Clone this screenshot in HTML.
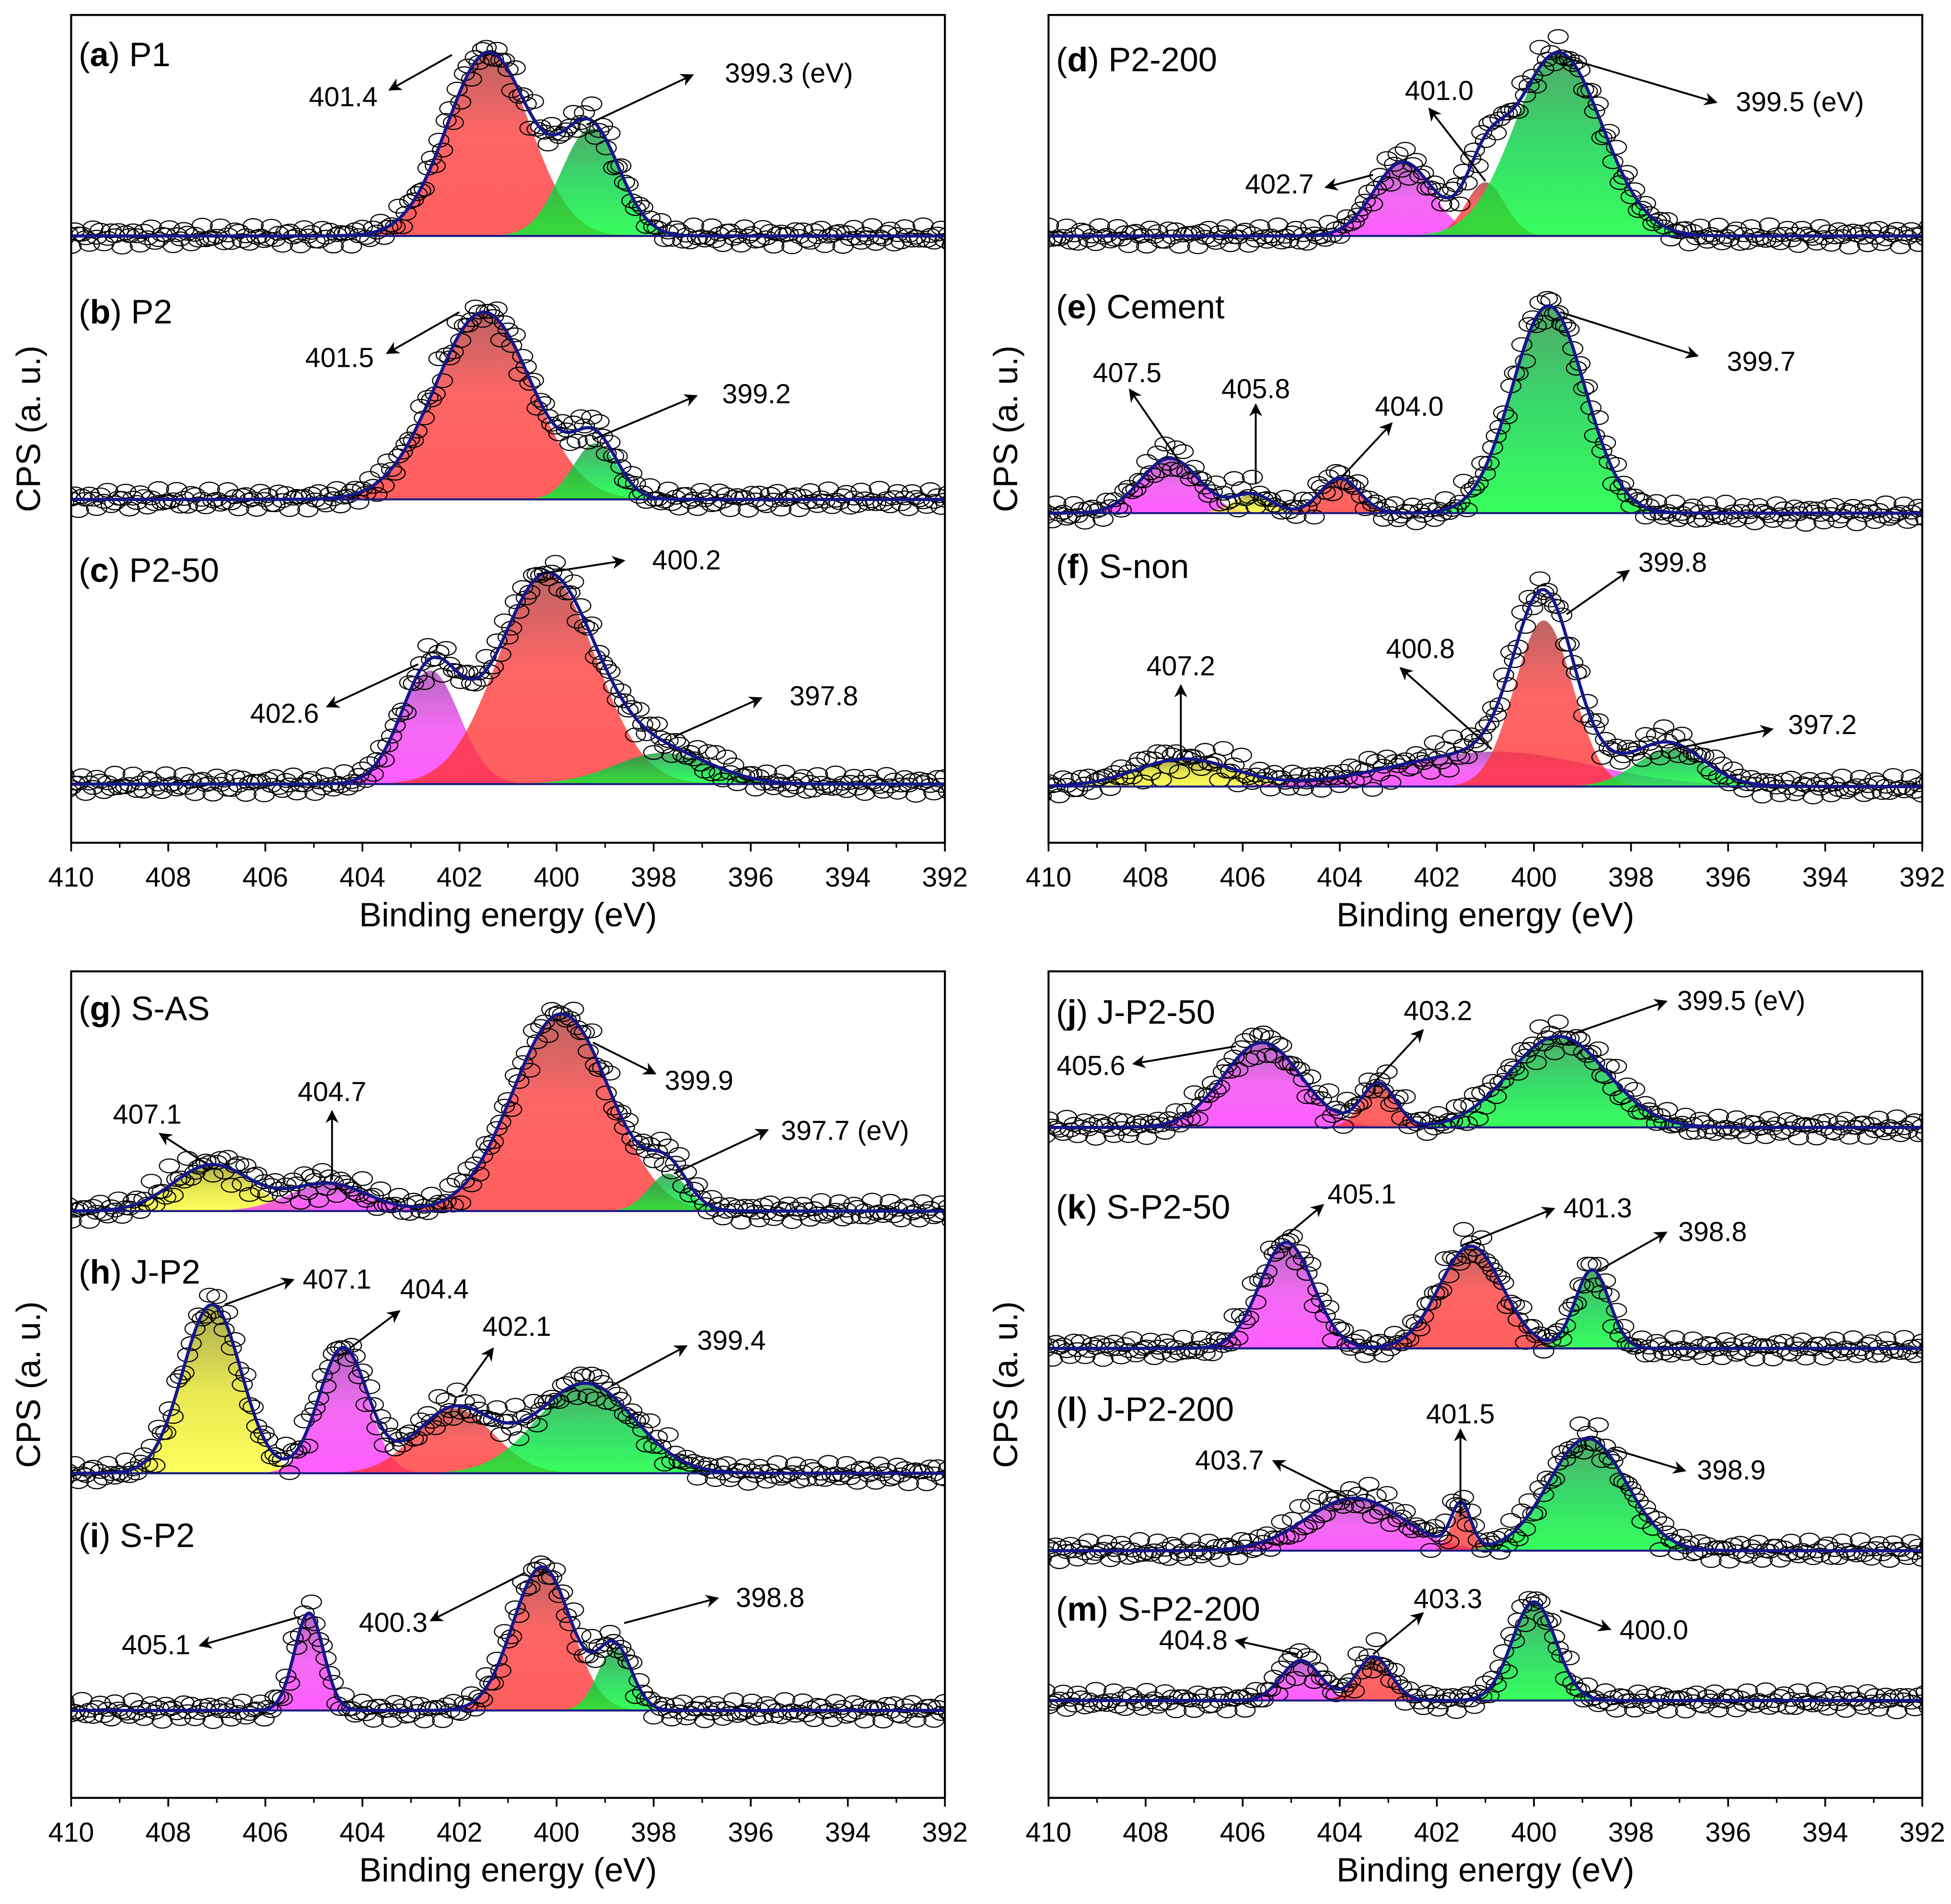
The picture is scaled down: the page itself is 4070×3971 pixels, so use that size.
<!DOCTYPE html>
<html><head><meta charset="utf-8"><style>
html,body{margin:0;padding:0;background:#fff}
svg{display:block;font-family:"Liberation Sans",sans-serif}
</style></head><body>
<svg id="chart" width="4070" height="3971" viewBox="0 0 1563 1525" xmlns="http://www.w3.org/2000/svg">
<defs>
<linearGradient id="gR" x1="0" y1="0" x2="0" y2="1"><stop offset="0" stop-color="#a83838"/><stop offset="0.45" stop-color="#ff3a3a"/><stop offset="1" stop-color="#ff3030"/></linearGradient>
<linearGradient id="gG" x1="0" y1="0" x2="0" y2="1"><stop offset="0" stop-color="#209040"/><stop offset="0.5" stop-color="#00d040"/><stop offset="1" stop-color="#00ff30"/></linearGradient>
<linearGradient id="gM" x1="0" y1="0" x2="0" y2="1"><stop offset="0" stop-color="#a040b0"/><stop offset="0.5" stop-color="#f040f0"/><stop offset="1" stop-color="#ff30ff"/></linearGradient>
<linearGradient id="gY" x1="0" y1="0" x2="0" y2="1"><stop offset="0" stop-color="#909020"/><stop offset="0.5" stop-color="#e0e020"/><stop offset="1" stop-color="#ffff30"/></linearGradient>
<marker id="ah" viewBox="0 0 10 10" refX="9" refY="5" markerWidth="7" markerHeight="7" orient="auto-start-reverse"><path d="M0,0 L10,5 L0,10 L3,5 z" fill="#000"/></marker>
</defs>
<g id="root"></g>
</svg>
<script>
// X axis ticks
const xTicks=[410,408,406,404,402,400,398,396,394,392];
// quadrant frames (display coords)
const frames=[{x:57,y:12,w:700,h:663},{x:840,y:12,w:700,h:663},{x:57,y:778,w:700,h:662},{x:840,y:778,w:700,h:662}];

// Panel data: peak centres (eV), amplitudes (arb. units), widths sigma (eV), colours
const letters=['a','b','c','d','e','f','g','h','i','j','k','l','m'];
const names=['P1','P2','P2-50','P2-200','Cement','S-non','S-AS','J-P2','S-P2','J-P2-50','S-P2-50','J-P2-200','S-P2-200'];
const quad=[0,0,0,1,1,1,2,2,2,3,3,3,3];
const baseY=[189,400,628,189,411,630,970,1180,1370,903,1080,1242,1362];
const labelY=[44,250,457,48,246,454,808,1019,1230,811,967,1129,1289];
const pos_a=[401.4,399.3], amp_a=[147,86], sig_a=[0.85,0.6], col_a=['R','G'];
const pos_b=[401.5,399.2], amp_b=[150,45], sig_b=[1.0,0.45], col_b=['R','G'];
const pos_c=[402.6,400.2,397.8], amp_c=[91,168,25], sig_c=[0.6,1.0,1.0], col_c=['M','R','G'];
const pos_d=[402.7,401.0,399.5], amp_d=[59,43,147], sig_d=[0.6,0.4,0.9], col_d=['M','R','G'];
const pos_e=[407.5,405.8,404.0,399.7], amp_e=[44,15,28,166], sig_e=[0.6,0.4,0.4,0.75], col_e=['M','Y','R','G'];
const pos_f=[407.2,400.8,399.8,397.2], amp_f=[22,28,133,30], sig_f=[1.0,2.0,0.6,0.7], col_f=['Y','M','R','G'];
const pos_g=[407.1,404.7,399.9,397.7], amp_g=[37,22,158,30], sig_g=[0.8,0.8,1.0,0.4], col_g=['Y','M','R','G'];
const pos_h=[407.1,404.4,402.1,399.4], amp_h=[135,100,52,72], sig_h=[0.6,0.5,0.8,1.0], col_h=['Y','M','R','G'];
const pos_i=[405.1,400.3,398.8], amp_i=[78,115,50], sig_i=[0.3,0.6,0.35], col_i=['M','R','G'];
const pos_j=[405.6,403.2,399.5], amp_j=[68,35,73], sig_j=[0.8,0.35,1.0], col_j=['M','R','G'];
const pos_k=[405.1,401.3,398.8], amp_k=[85,82,63], sig_k=[0.55,0.65,0.35], col_k=['M','R','G'];
const pos_l=[403.7,401.5,398.9], amp_l=[42,35,90], sig_l=[1.0,0.2,0.8], col_l=['M','R','G'];
const pos_m=[404.8,403.3,400.0], amp_m=[32,35,79], sig_m=[0.4,0.35,0.45], col_m=['M','R','G'];
const POS=[pos_a,pos_b,pos_c,pos_d,pos_e,pos_f,pos_g,pos_h,pos_i,pos_j,pos_k,pos_l,pos_m];
const AMP=[amp_a,amp_b,amp_c,amp_d,amp_e,amp_f,amp_g,amp_h,amp_i,amp_j,amp_k,amp_l,amp_m];
const SIG=[sig_a,sig_b,sig_c,sig_d,sig_e,sig_f,sig_g,sig_h,sig_i,sig_j,sig_k,sig_l,sig_m];
const COL=[col_a,col_b,col_c,col_d,col_e,col_f,col_g,col_h,col_i,col_j,col_k,col_l,col_m];
// annotations: label text, text x, text y, arrow start x,y, arrow end x,y
const annText=[['401.4','399.3 (eV)'],['401.5','399.2'],['402.6','400.2','397.8'],['402.7','401.0','399.5 (eV)'],['407.5','405.8','404.0','399.7'],['407.2','400.8','399.8','397.2'],['407.1','404.7','399.9','397.7 (eV)'],['407.1','404.4','402.1','399.4'],['405.1','400.3','398.8'],['405.6','403.2','399.5 (eV)'],['405.1','401.3','398.8'],['403.7','401.5','398.9'],['404.8','403.3','400.0']];
const annGeom=[
[[275,85,362,44,312,72],[632,66,470,100,555,60]],
[[272,294,368,250,310,283],[606,323,475,352,558,317]],
[[228,579,335,532,262,566],[550,456,430,460,500,449],[660,565,540,590,610,559]],
[[1025,155,1100,140,1062,150],[1153,80,1190,145,1145,87],[1442,89,1250,45,1375,82]],
[[903,306,945,370,905,312],[1006,319,1006,387,1006,324],[1129,333,1075,382,1115,339],[1411,297,1250,250,1360,285]],
[[946,541,946,608,946,549],[1138,527,1195,600,1122,535],[1340,458,1255,492,1305,457],[1460,588,1340,600,1420,584]],
[[118,900,165,932,128,908],[266,882,266,945,266,890],[560,873,475,835,525,860],[677,913,540,940,615,905]],
[[270,1032,180,1045,235,1025],[348,1040,280,1080,320,1050],[414,1070,370,1115,395,1080],[586,1081,490,1110,550,1078]],
[[125,1325,240,1295,160,1318],[315,1307,420,1260,345,1298],[617,1287,500,1300,575,1280]],
[[874,861,990,838,908,852],[1152,817,1100,868,1140,825],[1395,809,1260,828,1335,802]],
[[1091,964,1030,990,1060,965],[1280,975,1170,998,1245,968],[1372,994,1280,1018,1335,987]],
[[985,1177,1080,1200,1020,1170],[1170,1140,1170,1215,1170,1145],[1387,1185,1290,1160,1350,1178]],
[[956,1321,1040,1325,990,1314],[1160,1288,1100,1325,1140,1292],[1325,1313,1250,1290,1290,1305]]];

const NS='http://www.w3.org/2000/svg';
const root=document.getElementById('root');
function mk(tag,attrs,parent){const e=document.createElementNS(NS,tag);for(const k in attrs)e.setAttribute(k,attrs[k]);(parent||root).appendChild(e);return e;}
const gradMap={R:'url(#gR)',G:'url(#gG)',M:'url(#gM)',Y:'url(#gY)'};

frames.forEach((f,qi)=>{
  const xs=v=>f.x+(410-v)/18*f.w;
  const g=mk('g',{});
  
  
  const cp=mk('clipPath',{id:'clip'+qi},g);
  mk('rect',{x:f.x,y:f.y,width:f.w,height:f.h},cp);
  xTicks.forEach(t=>{
    const x=xs(t);
    mk('line',{x1:x,x2:x,y1:f.y+f.h,y2:f.y+f.h+7,stroke:'#000','stroke-width':1.4},g);
    const tx=mk('text',{x:x,y:f.y+f.h+35,'text-anchor':'middle','font-size':22},g);
    tx.textContent=t;
    
    
  });
  for(let t=409;t>392;t-=2){const x=xs(t);mk('line',{x1:x,x2:x,y1:f.y+f.h,y2:f.y+f.h+4,stroke:'#000','stroke-width':1.2},g);}
  const xt=mk('text',{x:f.x+f.w/2,y:f.y+f.h+67,'text-anchor':'middle','font-size':27},g);
  xt.textContent='Binding energy (eV)';
  
  
  const yx=f.x-25, yy=f.y+f.h/2;
  const yt=mk('text',{x:yx,y:yy,'text-anchor':'middle','font-size':27,transform:`rotate(-90 ${yx} ${yy})`},g);
  yt.textContent='CPS (a. u.)';
  
  
});

letters.forEach((L,i)=>{
  const f=frames[quad[i]];
  const xs=v=>f.x+(410-v)/18*f.w;
  const by=baseY[i];
  const g=mk('g',{'clip-path':'url(#clip'+quad[i]+')'});
  
  
  const pos=POS[i],amp=AMP[i],sig=SIG[i],col=COL[i];
  const comp=(k,e)=>amp[k]*Math.exp(-0.5*Math.pow((e-pos[k])/sig[k],2));
  const env=e=>{let s=0;for(let k=0;k<pos.length;k++)s+=comp(k,e);return s;};
  pos.forEach((p,k)=>{
    let d='M'+xs(p-4.5*sig[k])+','+by;
    for(let e=p-4.5*sig[k];e<=p+4.5*sig[k];e+=0.02)d+=' L'+xs(e).toFixed(2)+','+(by-comp(k,e)).toFixed(2);
    d+=' L'+xs(p+4.5*sig[k])+','+by+' Z';
    const pa=mk('path',{d:d,fill:gradMap[col[k]],'fill-opacity':0.78},g);
    
    
  });
  let n=0;
  for(let e=410.3;e>=391.7;e-=0.075){
    const jit=5*Math.sin(n*2.7+i)+4*Math.sin(n*1.3+i*3)+(env(e)>10?7*Math.sin(n*3.9):0);
    n++;
    const c=mk('ellipse',{cx:xs(e).toFixed(1),cy:(by-env(e)-jit).toFixed(1),rx:8,ry:5.5,fill:'none',stroke:'#000','stroke-width':0.9},g);
    
    
  }
  const bl=mk('line',{x1:f.x,x2:f.x+f.w,y1:by,y2:by,stroke:'#1a1a80','stroke-width':1.6},g);
  
  
  let d='';
  for(let e=410;e>=392;e-=0.02)d+=(d?' L':'M')+xs(e).toFixed(2)+','+(by-env(e)).toFixed(2);
  const fit=mk('path',{d:d,fill:'none',stroke:'#16168a','stroke-width':2.6},g);
  
  
  const t=mk('text',{x:f.x+6,y:labelY[i]+9,'font-size':27});
  
  
  t.innerHTML='(<tspan font-weight="bold">'+L+'</tspan>) '+names[i];
  annText[i].forEach((s,k)=>{
    const a=annGeom[i][k];
    const ln=mk('line',{x1:a[2],y1:a[3],x2:a[4],y2:a[5],stroke:'#000','stroke-width':1.5,'marker-end':'url(#ah)'});
    
    
    const tx=mk('text',{x:a[0],y:a[1],'text-anchor':'middle','font-size':22});
    tx.textContent=s;
    
    
  });
});
frames.forEach(f=>{
  const r=mk('rect',{x:f.x,y:f.y,width:f.w,height:f.h,fill:'none',stroke:'#000','stroke-width':1.6});
  
  
});
</script>
</body></html>
